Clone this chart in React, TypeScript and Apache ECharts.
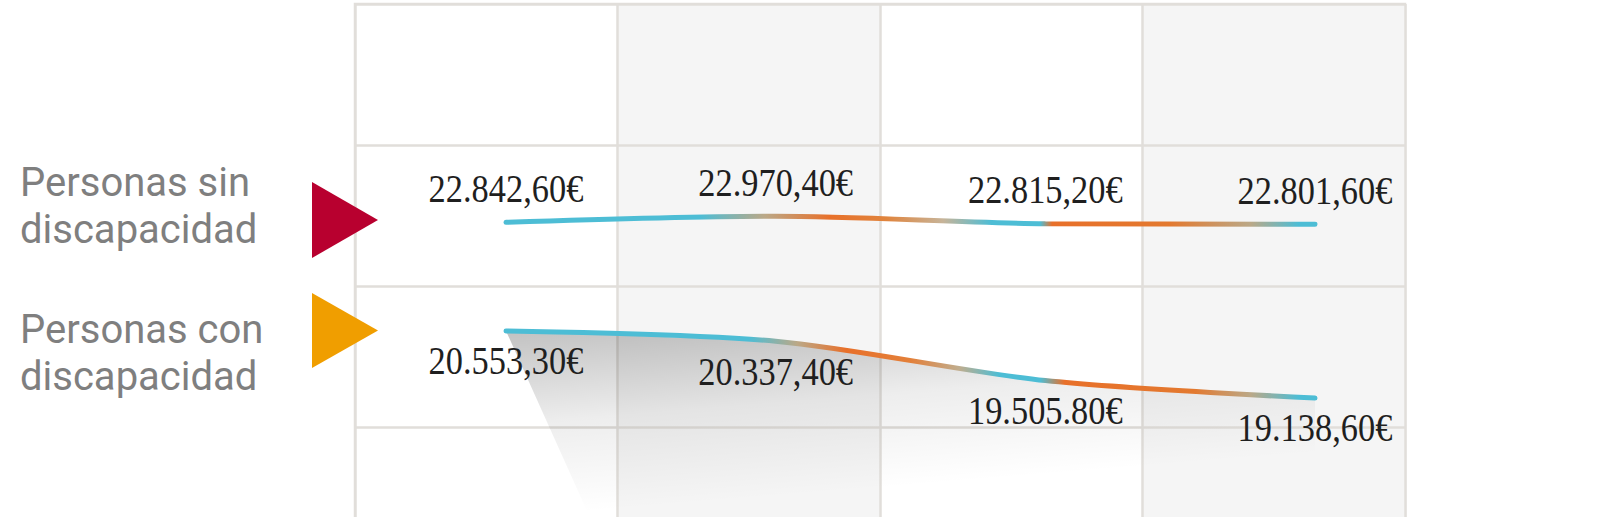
import React, { useEffect, useRef } from "react";
import * as echarts from "echarts";

// ---- data ----
const categories = ["1", "2", "3", "4"];
const sinValues = [22842.6, 22970.4, 22815.2, 22801.6];
const conValues = [20553.3, 20337.4, 19505.8, 19138.6];
const sinLabels = ["22.842,60€", "22.970,40€", "22.815,20€", "22.801,60€"];
const conLabels = ["20.553,30€", "20.337,40€", "19.505.80€", "19.138,60€"];
const seriesNames = ["Personas sin discapacidad", "Personas con discapacidad"];
const legendTexts = ["Personas sin\ndiscapacidad", "Personas con\ndiscapacidad"];

const CYAN = "#4dbdd5";
const ORANGE = "#e8702a";
const BEIGE = "#bba887";
const GRIDLINE = "#e1deda";

function gradient(stops: [number, string][]) {
  return new echarts.graphic.LinearGradient(
    0,
    0,
    1,
    0,
    stops.map(([offset, color]) => ({ offset, color }))
  );
}

export default function App() {
  const ref = useRef<HTMLDivElement>(null);

  useEffect(() => {
    if (!ref.current) return;
    const chart = echarts.init(ref.current, undefined, { renderer: "svg" });

    const sinGrad = gradient([
      [0, CYAN],
      [0.24, CYAN],
      [0.32, BEIGE],
      [0.4, ORANGE],
      [0.47, "#e0843d"],
      [0.54, "#c7b499"],
      [0.6, CYAN],
      [0.66, CYAN],
      [0.675, ORANGE],
      [0.82, "#e3792f"],
      [0.92, BEIGE],
      [0.98, CYAN],
      [1, CYAN],
    ]);
    const conGrad = gradient([
      [0, CYAN],
      [0.3, CYAN],
      [0.36, BEIGE],
      [0.42, ORANGE],
      [0.5, "#e3803a"],
      [0.56, "#c0ad8e"],
      [0.61, CYAN],
      [0.66, CYAN],
      [0.69, ORANGE],
      [0.85, "#e3792f"],
      [0.92, BEIGE],
      [0.98, CYAN],
      [1, CYAN],
    ]);

    const labelSeries = (values: number[], labels: string[], dy: number) => ({
      type: "custom",
      xAxisIndex: 1,
      yAxisIndex: 1,
      z: 6,
      silent: true,
      data: values.map((v, i) => [i, v]),
      renderItem: (params: any, api: any) => {
        const p = api.coord([api.value(0), api.value(1)]);
        return {
          type: "text",
          x: p[0],
          y: p[1] + dy,
          scaleX: 0.86,
          style: {
            text: labels[params.dataIndex],
            fontSize: 40,
            fontFamily: "'Liberation Serif', 'Times New Roman', serif",
            fill: "#1f1f1f",
            align: "center",
            verticalAlign: "middle",
          },
        };
      },
    });

    const legendText = (text: string, y: number) => ({
      type: "text",
      x: 20,
      y,
      z: 100,
      style: {
        text,
        fontSize: 40,
        fontFamily: "Roboto, 'Noto Sans', sans-serif",
        lineHeight: 47,
        fill: "#7f7f7f",
        verticalAlign: "top",
      },
    });

    const option: any = {
      animation: false,
      backgroundColor: "#ffffff",
      grid: [
        {
          left: 355,
          width: 1050,
          top: 4,
          height: 705,
          show: true,
          borderColor: GRIDLINE,
          borderWidth: 2.5,
          backgroundColor: "transparent",
        },
        { left: 506, width: 809, top: 0, height: 517 },
      ],
      xAxis: [
        {
          type: "category",
          gridIndex: 0,
          z: 0,
          data: categories,
          boundaryGap: true,
          axisLine: { show: false },
          axisTick: { show: false },
          axisLabel: { show: false },
          splitLine: { show: true, lineStyle: { color: GRIDLINE, width: 2.5 } },
          splitArea: { show: true, areaStyle: { color: ["#ffffff", "#f5f5f5"] } },
        },
        {
          type: "category",
          gridIndex: 1,
          data: categories,
          boundaryGap: false,
          axisLine: { show: false },
          axisTick: { show: false },
          axisLabel: { show: false },
          splitLine: { show: false },
        },
      ],
      yAxis: [
        {
          type: "value",
          gridIndex: 0,
          z: 1,
          min: 0,
          max: 5,
          interval: 1,
          axisLine: { show: false },
          axisTick: { show: false },
          axisLabel: { show: false },
          splitLine: { show: true, lineStyle: { color: GRIDLINE, width: 2.5 } },
        },
        {
          type: "value",
          gridIndex: 1,
          min: 16630,
          max: 27530,
          axisLine: { show: false },
          axisTick: { show: false },
          axisLabel: { show: false },
          splitLine: { show: false },
        },
      ],
      graphic: [
        legendText(legendTexts[0], 159),
        legendText(legendTexts[1], 306),
        {
          type: "polygon",
          z: 100,
          shape: { points: [[312, 182], [378, 220], [312, 258]] },
          style: { fill: "#b8002f" },
        },
        {
          type: "polygon",
          z: 100,
          shape: { points: [[312, 293], [378, 330.5], [312, 368]] },
          style: { fill: "#f09e00" },
        },
      ],
      series: [
        {
          type: "custom",
          xAxisIndex: 1,
          yAxisIndex: 1,
          z: 1,
          silent: true,
          data: [[0, conValues[0]]],
          renderItem: (params: any, api: any) => {
            const pts = conValues.map((v, i) => api.coord([i, v]));
            const cs = params.coordSys;
            const bottom = cs.y + cs.height;
            const first = pts[0];
            const last = pts[pts.length - 1];
            const points = [
              ...pts,
              [last[0], bottom],
              [first[0] + (bottom - first[1]) * 0.45, bottom],
            ];
            return {
              type: "polygon",
              shape: { points },
              style: {
                fill: new echarts.graphic.LinearGradient(0, 0, 0.35, 1, [
                  { offset: 0, color: "rgba(0,0,0,0.24)" },
                  { offset: 0.45, color: "rgba(0,0,0,0.07)" },
                  { offset: 0.9, color: "rgba(0,0,0,0)" },
                ]),
              },
            };
          },
        },
        {
          type: "line",
          name: seriesNames[0],
          xAxisIndex: 1,
          yAxisIndex: 1,
          data: sinValues,
          symbol: "none",
          smooth: 0.3,
          z: 3,
          lineStyle: { width: 5, cap: "round", color: sinGrad },
        },
        {
          type: "line",
          name: seriesNames[1],
          xAxisIndex: 1,
          yAxisIndex: 1,
          data: conValues,
          symbol: "none",
          smooth: 0.3,
          z: 3,
          lineStyle: { width: 5, cap: "round", color: conGrad },
        },
        labelSeries(sinValues, sinLabels, -34),
        labelSeries(conValues, conLabels, 30),
      ],
    };

    chart.setOption(option);
    return () => chart.dispose();
  }, []);

  return (
    <div
      ref={ref}
      style={{ position: "fixed", left: 0, top: 0, width: 1600, height: 720 }}
    />
  );
}
